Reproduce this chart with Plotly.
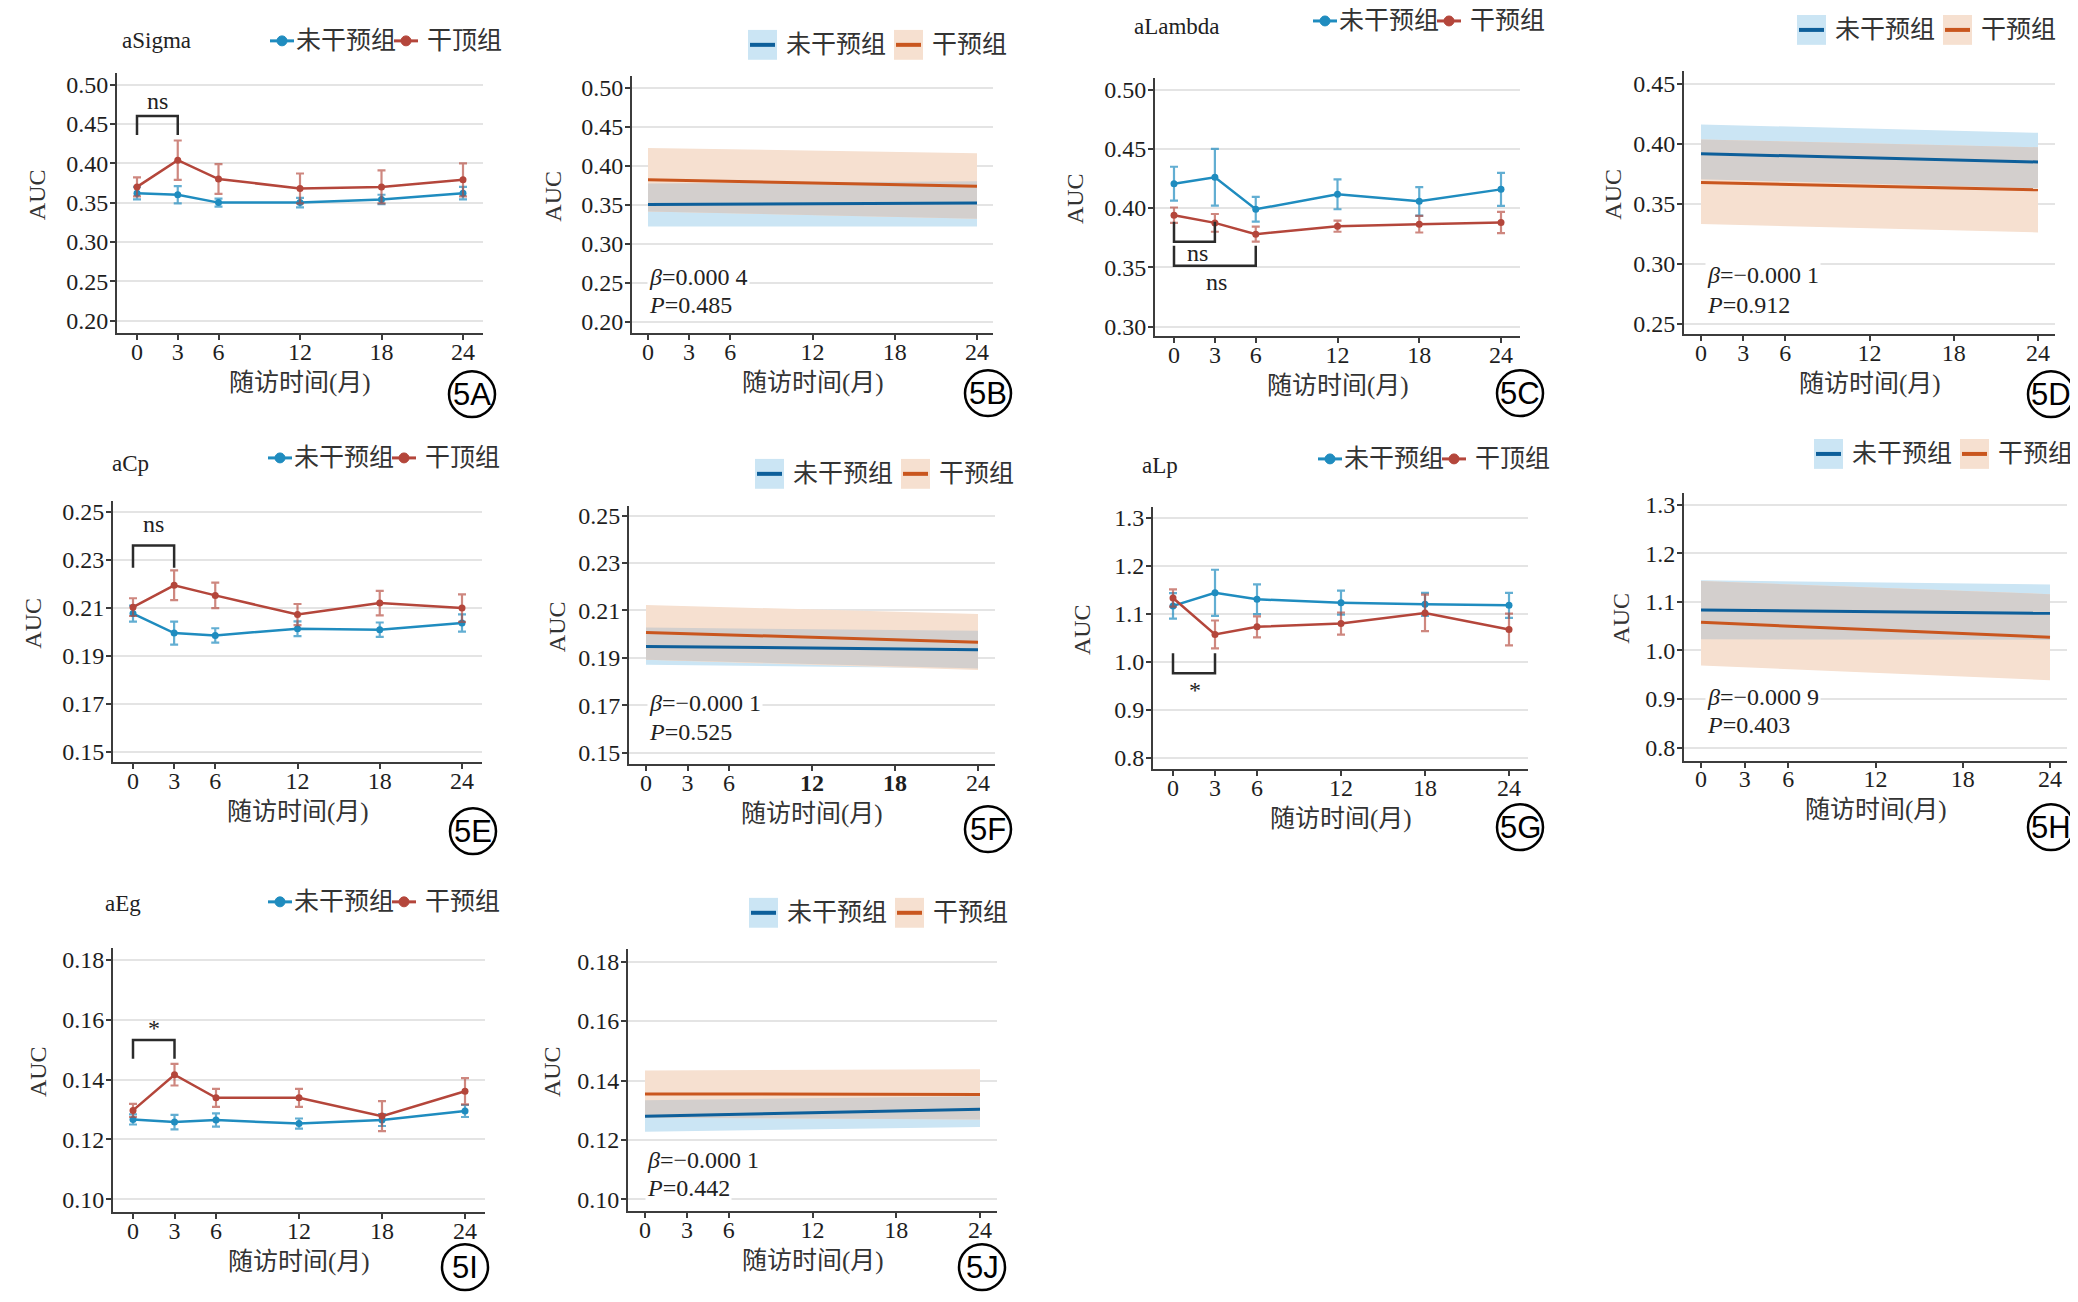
import numpy as np
import plotly.graph_objects as go

# the page puts the plot 8px in from the top-left corner, so the figure is
# drawn 8px smaller and every pixel position below is shifted back by 8
PAGE_OFF = 8
W, H = 2078 - PAGE_OFF, 1302 - PAGE_OFF
SERIF = "Liberation Serif, Noto Sans CJK SC"

months = [0, 3, 6, 12, 18, 24]
fit_x = [0, 24]

# --- mean +/- error over follow-up (5A, 5C, 5E, 5G, 5I) ---
sig_ctrl = [0.362, 0.360, 0.350, 0.350, 0.354, 0.362]
sig_ctrl_err = [0.008, 0.011, 0.005, 0.006, 0.006, 0.008]
sig_trt = [0.370, 0.404, 0.380, 0.368, 0.370, 0.379]
sig_trt_err = [0.012, 0.025, 0.019, 0.019, 0.021, 0.021]

lam_ctrl = [0.4206, 0.426, 0.399, 0.4116, 0.4057, 0.4158]
lam_ctrl_err = [0.0143, 0.024, 0.0105, 0.0126, 0.012, 0.014]
lam_trt = [0.394, 0.3875, 0.378, 0.3847, 0.3864, 0.3878]
lam_trt_err = [0.0065, 0.0075, 0.0063, 0.0047, 0.007, 0.009]

cp_ctrl = [0.2075, 0.1994, 0.1984, 0.2012, 0.2008, 0.2036]
cp_ctrl_err = [0.0033, 0.0048, 0.003, 0.0031, 0.003, 0.0036]
cp_trt = [0.2102, 0.2193, 0.2151, 0.2071, 0.2119, 0.2098]
cp_trt_err = [0.0037, 0.0062, 0.0053, 0.0044, 0.0051, 0.0057]

lp_ctrl = [1.116, 1.1434, 1.1297, 1.1228, 1.1193, 1.1172]
lp_ctrl_err = [0.0266, 0.048, 0.031, 0.025, 0.024, 0.026]
lp_trt = [1.1324, 1.0566, 1.0724, 1.0793, 1.1014, 1.0669]
lp_trt_err = [0.018, 0.029, 0.022, 0.023, 0.038, 0.033]

eg_ctrl = [0.1267, 0.1258, 0.1265, 0.1253, 0.1265, 0.1295]
eg_ctrl_err = [0.0017, 0.0024, 0.0022, 0.0017, 0.002, 0.002]
eg_trt = [0.1297, 0.1416, 0.1339, 0.1339, 0.1278, 0.1361]
eg_trt_err = [0.0022, 0.0036, 0.003, 0.003, 0.005, 0.0044]

# significance brackets: x0, x1, bar y, leg end y, label, label x, label y
sig_brackets = [(0, 3, 0.460, 0.436, "ns", 1.5, 0.479)]
lam_brackets = [(0, 3, 0.3716, 0.3884, "ns", 1.76, 0.3617),
                (0, 6, 0.3513, 0.3682, "ns", 3.1, 0.3376)]
cp_brackets = [(0, 3, 0.2359, 0.2266, "ns", 1.5, 0.2449)]
lp_brackets = [(0, 3, 0.9759, 1.0172, "*", 1.6, 0.9414)]
eg_brackets = [(0, 3, 0.1532, 0.1469, "*", 1.5, 0.1573)]

# --- fitted trend with CI (5B, 5D, 5F, 5H, 5J) ---
sig_fit_ctrl = [0.350, 0.352]
sig_fit_ctrl_lo = [0.322, 0.322]
sig_fit_ctrl_hi = [0.377, 0.380]
sig_fit_trt = [0.382, 0.3736]
sig_fit_trt_lo = [0.341, 0.332]
sig_fit_trt_hi = [0.4226, 0.416]

lam_fit_ctrl = [0.3916, 0.3847]
lam_fit_ctrl_lo = [0.3703, 0.3627]
lam_fit_ctrl_hi = [0.416, 0.409]
lam_fit_trt = [0.3676, 0.3615]
lam_fit_trt_lo = [0.333, 0.326]
lam_fit_trt_hi = [0.4035, 0.397]

cp_fit_ctrl = [0.1948, 0.1934]
cp_fit_ctrl_lo = [0.1871, 0.1855]
cp_fit_ctrl_hi = [0.2028, 0.2014]
cp_fit_trt = [0.2007, 0.1966]
cp_fit_trt_lo = [0.1892, 0.1848]
cp_fit_trt_hi = [0.2123, 0.2085]

lp_fit_ctrl = [1.083, 1.0763]
lp_fit_ctrl_lo = [1.023, 1.0217]
lp_fit_ctrl_hi = [1.1445, 1.1356]
lp_fit_trt = [1.0578, 1.0271]
lp_fit_trt_lo = [0.969, 0.9385]
lp_fit_trt_hi = [1.143, 1.1158]

eg_fit_ctrl = [0.128, 0.1303]
eg_fit_ctrl_lo = [0.1228, 0.1244]
eg_fit_ctrl_hi = [0.1334, 0.1347]
eg_fit_trt = [0.1355, 0.1353]
eg_fit_trt_lo = [0.1275, 0.1269]
eg_fit_trt_hi = [0.1434, 0.1438]

stat_text = {"B": ("0.000 4", "0.485"), "D": ("\u22120.000 1", "0.912"),
             "F": ("\u22120.000 1", "0.525"), "H": ("\u22120.000 9", "0.403"),
             "J": ("\u22120.000 1", "0.442")}

sig_yticks = [0.20, 0.25, 0.30, 0.35, 0.40, 0.45, 0.50]
lam_yticks = [0.30, 0.35, 0.40, 0.45, 0.50]
lamfit_yticks = [0.25, 0.30, 0.35, 0.40, 0.45]
cp_yticks = [0.15, 0.17, 0.19, 0.21, 0.23, 0.25]
lp_yticks = [0.8, 0.9, 1.0, 1.1, 1.2, 1.3]
eg_yticks = [0.10, 0.12, 0.14, 0.16, 0.18]

# colours
C_BLUE = "#1f8cbf"
C_RED = "#b4463b"
C_BLUE_E = "rgba(31,140,191,0.7)"
C_RED_E = "rgba(180,70,59,0.65)"
F_BLUE = "#0d5f9a"
F_ORANGE = "#c9561e"
B_BLUE = "#cbe5f4"
B_ORANGE = "#f6e0d0"
B_OVER = "#d3cfcd"

# panel layout in reference pixels: box (l, t, r, b), x ticks 0/24 px, y calibration
panels = {
    "A": dict(box=(117, 70, 483, 332), xc=(137, 463), yc=(0.50, 82, 0.20, 319), yt=sig_yticks, fmt="{:.2f}", auc=-80),
    "B": dict(box=(632, 73, 993, 332), xc=(648, 977), yc=(0.50, 85, 0.20, 320), yt=sig_yticks, fmt="{:.2f}", auc=-79),
    "C": dict(box=(1155, 75, 1520, 335), xc=(1174, 1501), yc=(0.50, 87, 0.30, 325), yt=lam_yticks, fmt="{:.2f}", auc=-80),
    "D": dict(box=(1684, 68, 2055, 333), xc=(1701, 2038), yc=(0.45, 81, 0.25, 322), yt=lamfit_yticks, fmt="{:.2f}", auc=-71),
    "E": dict(box=(113, 500, 482, 763), xc=(133, 462), yc=(0.25, 511, 0.15, 752), yt=cp_yticks, fmt="{:.2f}", auc=-80),
    "F": dict(box=(629, 505, 995, 765), xc=(646, 978), yc=(0.25, 515, 0.15, 753), yt=cp_yticks, fmt="{:.2f}", auc=-72),
    "G": dict(box=(1153, 506, 1528, 770), xc=(1173, 1509), yc=(1.3, 517, 0.8, 758), yt=lp_yticks, fmt="{:.1f}", auc=-71),
    "H": dict(box=(1684, 492, 2067, 761), xc=(1701, 2050), yc=(1.3, 504, 0.8, 748), yt=lp_yticks, fmt="{:.1f}", auc=-63),
    "I": dict(box=(113, 949, 485, 1215), xc=(133, 465), yc=(0.18, 961, 0.10, 1202), yt=eg_yticks, fmt="{:.2f}", auc=-75),
    "J": dict(box=(628, 950, 997, 1214), xc=(645, 980), yc=(0.18, 963, 0.10, 1202), yt=eg_yticks, fmt="{:.2f}", auc=-76),
}

line_panels = {
    "A": ("aSigma", (120, 38), (270, 38), "干顶组", sig_ctrl, sig_ctrl_err, sig_trt, sig_trt_err, sig_brackets),
    "C": ("aLambda", (1132, 24), (1313, 18), "干预组", lam_ctrl, lam_ctrl_err, lam_trt, lam_trt_err, lam_brackets),
    "E": ("aCp", (110, 463), (268, 457), "干顶组", cp_ctrl, cp_ctrl_err, cp_trt, cp_trt_err, cp_brackets),
    "G": ("aLp", (1140, 465), (1318, 458), "干顶组", lp_ctrl, lp_ctrl_err, lp_trt, lp_trt_err, lp_brackets),
    "I": ("aEg", (103, 905), (268, 903), "干预组", eg_ctrl, eg_ctrl_err, eg_trt, eg_trt_err, eg_brackets),
}

fit_panels = {
    "B": ((748, 42), (647, 275, 303), sig_fit_ctrl, sig_fit_ctrl_lo, sig_fit_ctrl_hi, sig_fit_trt, sig_fit_trt_lo, sig_fit_trt_hi),
    "D": ((1797, 27), (1705, 273, 303), lam_fit_ctrl, lam_fit_ctrl_lo, lam_fit_ctrl_hi, lam_fit_trt, lam_fit_trt_lo, lam_fit_trt_hi),
    "F": ((755, 473), (647, 703, 732), cp_fit_ctrl, cp_fit_ctrl_lo, cp_fit_ctrl_hi, cp_fit_trt, cp_fit_trt_lo, cp_fit_trt_hi),
    "H": ((1814, 453), (1705, 697, 725), lp_fit_ctrl, lp_fit_ctrl_lo, lp_fit_ctrl_hi, lp_fit_trt, lp_fit_trt_lo, lp_fit_trt_hi),
    "J": ((749, 914), (645, 1162, 1190), eg_fit_ctrl, eg_fit_ctrl_lo, eg_fit_ctrl_hi, eg_fit_trt, eg_fit_trt_lo, eg_fit_trt_hi),
}

labels = {"A": (472, 393), "B": (988, 392), "C": (1520, 392), "D": (2051, 393), "E": (473, 832),
          "F": (988, 830), "G": (1520, 828), "H": (2051, 828), "I": (465, 1270), "J": (982, 1270)}


def px(x):
    return (x - PAGE_OFF) / W


def py(y):
    return 1 - (y - PAGE_OFF) / H


def note(x, y, text, size, xanchor="center", family=SERIF, color="#222", **kw):
    # text placed in reference pixel coordinates
    return dict(x=px(x), y=py(y), xref="paper", yref="paper", text=text, showarrow=False,
                xanchor=xanchor, yanchor="middle", font=dict(family=family, size=size, color=color), **kw)


fig = go.Figure()
shapes = []
annotations = []
layout = {}
tickfont = dict(family=SERIF, size=24, color="#1e1e1e")

for i, (key, p) in enumerate(panels.items(), start=1):
    l, t, r, b = p["box"]
    p0, p24 = p["xc"]
    v1, y1, v2, y2 = p["yc"]
    sx = (p24 - p0) / 24
    sy = (y2 - y1) / (v1 - v2)
    xr = [(l - p0) / sx, 24 + (r - p24) / sx]
    yr = [v2 - (b - y2) / sy, v1 + (y1 - t) / sy]
    sfx = "" if i == 1 else str(i)
    p["xref"] = "x" + sfx
    p["yref"] = "y" + sfx
    xt = [str(m) for m in months]
    if key == "F":
        xt = ["<b>%d</b>" % m if m in (12, 18) else str(m) for m in months]
    layout["xaxis" + sfx] = dict(
        domain=[px(l), px(r)], range=xr, anchor="y" + sfx,
        tickvals=months, ticktext=xt, showgrid=False, zeroline=False,
        showline=True, linecolor="#3c3c3c", linewidth=2,
        ticks="outside", ticklen=5, tickwidth=2, tickcolor="#3c3c3c",
        ticklabelstandoff=-9, tickfont=tickfont, fixedrange=True)
    layout["yaxis" + sfx] = dict(
        domain=[py(b), py(t)], range=yr, anchor="x" + sfx,
        tickvals=p["yt"], ticktext=[p["fmt"].format(v) for v in p["yt"]],
        showgrid=True, gridcolor="#e4e4e4", gridwidth=2, zeroline=False,
        showline=True, linecolor="#3c3c3c", linewidth=2,
        ticks="outside", ticklen=5, tickwidth=2, tickcolor="#3c3c3c",
        ticklabelstandoff=-3, tickfont=tickfont, fixedrange=True)
    # axis titles
    annotations.append(note((l + r) / 2, b + 50, "随访时间(月)", 25, color="#333"))
    annotations.append(note(l + p["auc"], (t + b) / 2 - 8, "AUC", 24, color="#333", textangle=-90))
    # circled panel label
    cx, cy = labels[key]
    shapes.append(dict(type="circle", xref="paper", yref="paper",
                       x0=px(cx - 23), x1=px(cx + 23), y0=py(cy + 23), y1=py(cy - 23),
                       line=dict(color="black", width=2.5)))
    annotations.append(note(cx, cy, "5" + key, 31, family="Liberation Sans", color="black"))

# line panels
for key, (title, tpos, lpos, trt_name, c, ce, tr, te, brackets) in line_panels.items():
    p = panels[key]
    xa, ya = p["xref"], p["yref"]
    for yv, ev, col, ecol, name in [(c, ce, C_BLUE, C_BLUE_E, "未干预组"), (tr, te, C_RED, C_RED_E, trt_name)]:
        fig.add_trace(go.Scatter(
            x=months, y=yv, xaxis=xa, yaxis=ya, mode="lines+markers", name=name,
            line=dict(color=col, width=2.5), marker=dict(color=col, size=7),
            error_y=dict(type="data", array=ev, visible=True, color=ecol, thickness=2.2, width=4),
            showlegend=False))
    for x0, x1, bar, leg, txt, lx, ly in brackets:
        fig.add_trace(go.Scatter(x=[x0, x0, x1, x1], y=[leg, bar, bar, leg], xaxis=xa, yaxis=ya,
                                 mode="lines", line=dict(color="#2b2b2b", width=2.5),
                                 showlegend=False, hoverinfo="skip"))
        annotations.append(dict(x=lx, y=ly, xref=xa, yref=ya, text=txt, showarrow=False,
                                xanchor="center", yanchor="middle",
                                font=dict(family=SERIF, size=24, color="#222")))
    annotations.append(note(tpos[0], tpos[1], title, 23, xanchor="left"))
    # legend
    lx0, ly0 = lpos
    for off, col, name in [(0, C_BLUE, "未干预组"), (124, C_RED, trt_name)]:
        shapes.append(dict(type="line", xref="paper", yref="paper",
                           x0=px(lx0 + off), x1=px(lx0 + off + 24), y0=py(ly0), y1=py(ly0),
                           line=dict(color=col, width=3)))
        shapes.append(dict(type="circle", xref="paper", yref="paper", fillcolor=col,
                           x0=px(lx0 + off + 7), x1=px(lx0 + off + 17),
                           y0=py(ly0 + 5), y1=py(ly0 - 5), line=dict(color=col, width=1)))
        annotations.append(note(lx0 + off + (24 if off == 0 else 31), ly0, name, 25,
                                xanchor="left", color="#333"))

# fitted panels
for key, (lpos, spos, c, clo, chi, tr, tlo, thi) in fit_panels.items():
    p = panels[key]
    xa, ya = p["xref"], p["yref"]
    olo = np.maximum(clo, tlo)
    ohi = np.minimum(chi, thi)
    for lo, hi, fc in [(clo, chi, B_BLUE), (tlo, thi, B_ORANGE), (olo, ohi, B_OVER)]:
        fig.add_trace(go.Scatter(
            x=fit_x + fit_x[::-1], y=list(lo) + list(hi)[::-1], xaxis=xa, yaxis=ya,
            mode="lines", fill="toself", fillcolor=fc, line=dict(width=0),
            showlegend=False, hoverinfo="skip"))
    for yv, col, name in [(c, F_BLUE, "未干预组"), (tr, F_ORANGE, "干预组")]:
        fig.add_trace(go.Scatter(x=fit_x, y=yv, xaxis=xa, yaxis=ya, mode="lines", name=name,
                                 line=dict(color=col, width=3), showlegend=False))
    beta, pval = stat_text[key]
    sx0, sy1, sy2 = spos
    annotations.append(note(sx0, sy1, "<i>β</i>=" + beta, 24, xanchor="left", bgcolor="white"))
    annotations.append(note(sx0, sy2, "<i>P</i>=" + pval, 24, xanchor="left", bgcolor="white"))
    lx0, ly0 = lpos
    for off, bc, lc, name in [(0, B_BLUE, F_BLUE, "未干预组"), (146, B_ORANGE, F_ORANGE, "干预组")]:
        shapes.append(dict(type="rect", xref="paper", yref="paper",
                           x0=px(lx0 + off), x1=px(lx0 + off + 29), y0=py(ly0 + 15), y1=py(ly0 - 15),
                           fillcolor=bc, line=dict(width=0)))
        shapes.append(dict(type="line", xref="paper", yref="paper",
                           x0=px(lx0 + off + 2), x1=px(lx0 + off + 27), y0=py(ly0), y1=py(ly0),
                           line=dict(color=lc, width=4)))
        annotations.append(note(lx0 + off + 36, ly0, name, 25, xanchor="left", color="#333"))

fig.update_layout(
    width=W, height=H, margin=dict(l=0, r=0, t=0, b=0),
    paper_bgcolor="white", plot_bgcolor="white",
    font=dict(family=SERIF, color="#222"),
    shapes=shapes, annotations=annotations, showlegend=False,
    **layout)

fig.write_html("out.html")
